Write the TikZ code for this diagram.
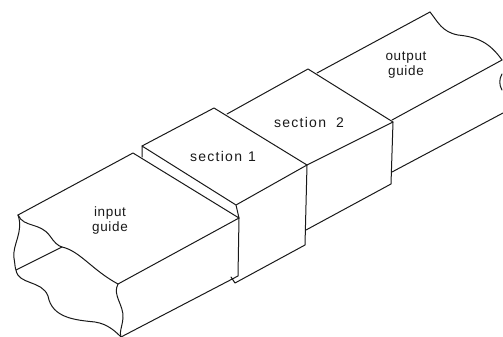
\documentclass[tikz,border=0pt]{standalone}
\usepackage{fontspec}
\setmainfont[LetterSpace=5]{Liberation Sans}
\newfontfamily\widefont[LetterSpace=9]{Liberation Sans}
\tikzset{
  edge/.style={line width=1pt,line join=round,line cap=round,black!90},
  lbl/.style={font=\fontsize{13.5}{15}\selectfont,align=center,inner sep=0pt,text=black!90},
  seclbl/.style={font=\widefont\fontsize{14}{15}\selectfont,inner sep=0pt,text=black!90}
}
\begin{document}
\begin{tikzpicture}[x=1pt,y=-1pt]
\useasboundingbox (0,0) rectangle (503,337);
% output guide
\draw[edge] (317,73) -- (430,12);
\draw[edge] (430,12) .. controls (438,22) and (442,32) .. (458,35) .. controls (478,37) and (490,43) .. (502,60);
\draw[edge] (392,120) -- (502,60);
\draw[edge] (392,172) -- (503,113);
\draw[edge] (502,74) .. controls (499,79) and (499,85) .. (502,90);
% section 2
\draw[edge] (227,114) -- (308,69) -- (393,122) -- (391,184) -- (306,230);
\draw[edge] (393,122) -- (307,165);
% section 1
\draw[edge] (142,146) -- (214,108) -- (307,165) -- (305,245) -- (235,283) -- (231,277);
\draw[edge] (307,165) -- (236,205) -- (142,146) -- (142,157);
\draw[edge] (236,205) -- (239,218);
% input guide
\draw[edge] (18,215) -- (133,153) -- (239,218) -- (118,284);
\draw[edge] (239,218) -- (238,276) -- (121,337);
\draw[edge] (62,247) -- (16,270);
\draw[edge] (18,215) .. controls (24,228) and (40,222) .. (50,236) .. controls (54,242) and (58,246) .. (62,247) .. controls (80,251) and (92,270) .. (118,284);
\draw[edge] (18,215) .. controls (24,232) and (12,245) .. (14,258) .. controls (15,264) and (15,268) .. (16,270) .. controls (18,285) and (42,280) .. (48,296) .. controls (52,318) and (75,320) .. (95,322) .. controls (108,324) and (116,332) .. (121,337);
\draw[edge] (118,284) .. controls (112,295) and (124,305) .. (123,318) .. controls (122,328) and (119,332) .. (121,337);
% labels
\node[lbl] (inputlbl) at (110,221) {input\\guide};
\node[seclbl] (sec1lbl) at (223,156) {section\hspace{6pt}1};
\node[seclbl] (sec2lbl) at (309,122) {section\hspace{10pt}2};
\node[lbl] (outputlbl) at (406,65) {output\\guide};
\end{tikzpicture}
\end{document}
